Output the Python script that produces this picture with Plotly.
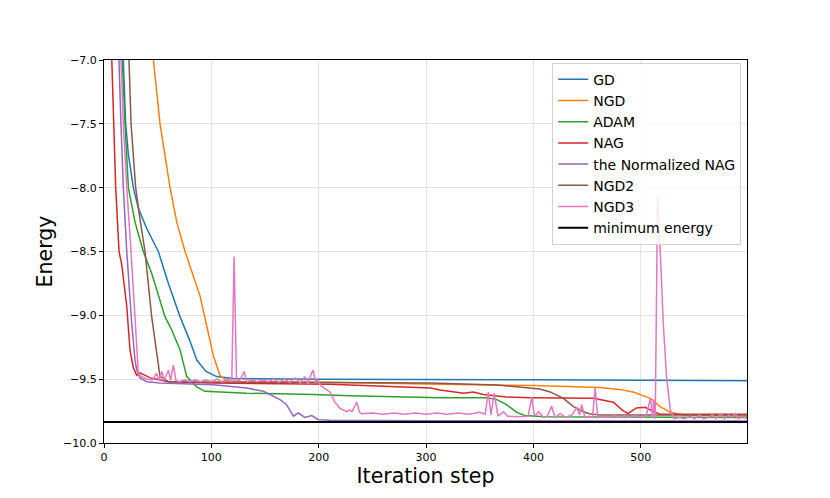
import plotly.graph_objects as go

# convergence curves (iteration step, energy)
gd_step = [0, 18, 20.2, 22.7, 27.3, 32, 39.8, 50.6, 60, 70.8, 80, 86.4, 95, 105, 120, 200, 400, 599]
gd_energy = [-5.0, -7.0, -7.5, -7.74, -8.0, -8.16, -8.32, -8.5, -8.75, -9.01, -9.2, -9.35, -9.44, -9.48,
             -9.495, -9.5, -9.505, -9.512]

ngd_step = [0, 46, 52.2, 61.5, 67.8, 75.5, 89.5, 96, 102, 108, 114, 130, 210, 313, 400, 462, 480, 493,
            509, 518, 527.6, 540, 599]
ngd_energy = [-5.0, -7.0, -7.5, -8.0, -8.27, -8.5, -8.85, -9.1, -9.32, -9.47, -9.51, -9.52, -9.525, -9.54,
              -9.55, -9.565, -9.58, -9.6, -9.65, -9.715, -9.76, -9.78, -9.79]

adam_step = [0, 17, 19.6, 22.7, 28.9, 36.6, 44.4, 53.8, 56.8, 63.1, 70.8, 77.1, 83.2, 86.4, 94, 133, 195,
             229, 313, 357, 366, 375, 384.6, 392, 410, 599]
adam_energy = [-5.0, -7.0, -7.5, -8.0, -8.27, -8.5, -8.67, -8.93, -9.01, -9.115, -9.27, -9.48, -9.53,
               -9.56, -9.595, -9.61, -9.62, -9.63, -9.645, -9.645, -9.66, -9.7, -9.76, -9.785, -9.795, -9.8]

nag_step = [0, 7.2, 8.7, 10.9, 14, 16.5, 21.2, 24.2, 27.3, 30.5, 33.6, 43, 60, 100, 210.6, 304, 313, 335,
            344, 353.5, 375, 397, 456, 474.6, 482.5, 488, 496, 504, 511, 518, 599]
nag_energy = [-5.0, -7.0, -7.5, -8.0, -8.5, -8.6, -8.93, -9.27, -9.41, -9.47, -9.45, -9.49, -9.52, -9.53,
              -9.54, -9.57, -9.585, -9.61, -9.6, -9.62, -9.64, -9.645, -9.65, -9.68, -9.74, -9.77, -9.725,
              -9.72, -9.75, -9.775, -9.775]

nnag_step = [0, 13.9, 15.8, 18, 21.2, 25.8, 28.9, 30.5, 33.6, 39.8, 52.2, 101.9, 133, 148.5, 164, 170,
             176.4, 181, 187, 193.6, 199.7, 210.6, 300, 599]
nnag_energy = [-5.0, -7.0, -7.5, -8.0, -8.5, -9.06, -9.35, -9.43, -9.49, -9.52, -9.53, -9.543, -9.57,
               -9.595, -9.66, -9.7, -9.79, -9.765, -9.8, -9.785, -9.817, -9.822, -9.826, -9.828]

ngd2_step = [0, 23.3, 25.2, 29.5, 33.6, 38.2, 44.4, 52.2, 60, 210.6, 304, 366, 397, 406, 415.6, 428,
             437.4, 446.7, 452, 462, 599]
ngd2_energy = [-5.0, -7.0, -7.5, -8.0, -8.25, -8.5, -9.01, -9.48, -9.52, -9.525, -9.53, -9.545, -9.57,
               -9.577, -9.6, -9.65, -9.715, -9.755, -9.77, -9.78, -9.78]

ngd3_step = [0, 15.8, 18, 21.2, 25.2, 32, 35, 40, 45, 49, 51, 53.8, 56, 60, 62, 64.6, 67, 70, 75, 80, 85,
             90, 95, 100, 105, 110, 115, 119, 121.2, 123.5, 127, 130.5, 133, 138, 143, 148, 153, 158, 163,
             168, 173, 178, 183, 187, 190, 193, 195, 197, 199, 201, 205, 210.6, 215, 220, 226, 229, 231,
             235.5, 238, 240, 250, 260, 270, 280, 290, 300, 310, 320, 330, 340, 350, 355, 358, 360.5,
             363.5, 367, 372, 376, 385, 395, 398.5, 401, 405, 409, 413, 417, 420, 425, 430, 436, 440.5,
             443, 445, 448, 452, 455, 457.6, 460, 465, 470, 475, 480, 485, 490, 495, 500, 505, 509, 511,
             512, 513.5, 515.7, 518, 521, 524, 527.6, 531, 536, 541, 546, 550, 555, 558, 563, 567, 570,
             575, 578, 582, 585, 588, 591, 595, 599]
ngd3_energy = [-5.0, -7.0, -7.5, -8.0, -8.5, -9.455, -9.48, -9.5, -9.505, -9.455, -9.51, -9.44, -9.51,
               -9.43, -9.51, -9.39, -9.51, -9.52, -9.505, -9.52, -9.505, -9.52, -9.505, -9.52, -9.5,
               -9.52, -9.5, -9.52, -8.54, -9.52, -9.5, -9.44, -9.52, -9.505, -9.52, -9.505, -9.52, -9.5,
               -9.525, -9.5, -9.525, -9.49, -9.53, -9.48, -9.54, -9.46, -9.43, -9.53, -9.5, -9.54, -9.57,
               -9.6, -9.68, -9.73, -9.755, -9.74, -9.755, -9.68, -9.76, -9.77, -9.765, -9.775, -9.765,
               -9.775, -9.765, -9.775, -9.765, -9.775, -9.765, -9.775, -9.76, -9.775, -9.6, -9.78, -9.61,
               -9.79, -9.755, -9.79, -9.795, -9.79, -9.64, -9.79, -9.755, -9.8, -9.79, -9.71, -9.8, -9.77,
               -9.8, -9.78, -9.72, -9.78, -9.7, -9.8, -9.79, -9.8, -9.57, -9.8, -9.79, -9.8, -9.785, -9.8,
               -9.785, -9.8, -9.785, -9.8, -9.79, -9.65, -9.8, -9.66, -9.81, -8.07, -8.46, -9.06, -9.48,
               -9.74, -9.81, -9.8, -9.81, -9.79, -9.81, -9.78, -9.81, -9.8, -9.78, -9.81, -9.77, -9.81,
               -9.78, -9.8, -9.77, -9.81, -9.79, -9.81]

min_step = [0, 599]
min_energy = [-9.835, -9.835]

series = [
    ("GD", gd_step, gd_energy, "#1f77b4"),
    ("NGD", ngd_step, ngd_energy, "#ff7f0e"),
    ("ADAM", adam_step, adam_energy, "#2ca02c"),
    ("NAG", nag_step, nag_energy, "#d62728"),
    ("the Normalized NAG", nnag_step, nnag_energy, "#9467bd"),
    ("NGD2", ngd2_step, ngd2_energy, "#8c564b"),
    ("NGD3", ngd3_step, ngd3_energy, "#e377c2"),
    ("minimum energy", min_step, min_energy, "black"),
]

fig = go.Figure()
for name, xs, ys, color in series:
    fig.add_trace(go.Scatter(x=xs, y=ys, mode="lines", name=name,
                             line=dict(color=color, width=2 if color == "black" else 1.5)))

axis_style = dict(showline=True, linecolor="black", linewidth=1, mirror=True,
                  showgrid=True, gridcolor="#e3e3e3", gridwidth=1, zeroline=False,
                  ticks="outside", ticklen=4, tickcolor="black",
                  tickfont=dict(size=11, color="black"))

fig.update_xaxes(range=[0, 599], tickvals=[0, 100, 200, 300, 400, 500],
                 title=dict(text="Iteration step", font=dict(size=20.5, color="black"), standoff=5),
                 **axis_style)
fig.update_yaxes(range=[-10, -7], dtick=0.5, tickformat=".1f",
                 title=dict(text="Energy", font=dict(size=20.5, color="black"), standoff=4),
                 **axis_style)

fig.update_layout(
    width=830, height=498,
    margin=dict(l=96, r=91, t=52, b=63),
    paper_bgcolor="white", plot_bgcolor="white",
    font=dict(family="DejaVu Sans", color="black"),
    legend=dict(x=0.991, y=0.993, xanchor="right", yanchor="top",
                bgcolor="rgba(255,255,255,0.85)", bordercolor="#d0d0d0", borderwidth=1,
                font=dict(size=14), itemwidth=30, tracegroupgap=0),
    showlegend=True,
)

fig.write_html("out.html")
